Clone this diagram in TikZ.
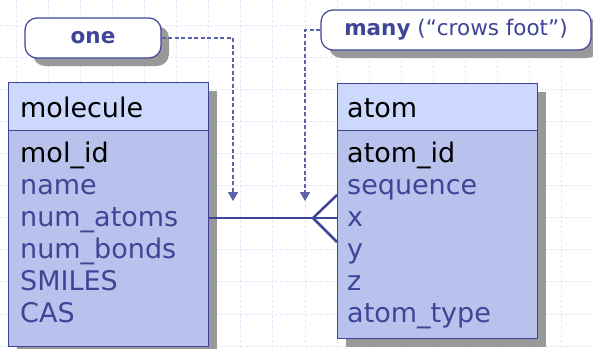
\documentclass[tikz,border=0pt]{standalone}
\usepackage{fontspec}
\setmainfont{DejaVu Sans}
\usetikzlibrary{arrows.meta, shadows, calc}

\definecolor{linkblue}{HTML}{3F4596}
\definecolor{dashblue}{HTML}{5C62A8}
\definecolor{headfill}{HTML}{CCD9FC}
\definecolor{bodyfill}{HTML}{B8C2EC}
\definecolor{gridblue}{HTML}{E2E7FB}
\definecolor{shadowgray}{HTML}{999999}

\begin{document}
\begin{tikzpicture}[x=1pt, y=-1pt,
        gridline/.style={gridblue, line width=0.8pt, dash pattern=on 3pt off 2pt},
        boxshadow/.style={drop shadow={shadow xshift=8pt, shadow yshift=-8pt, fill=shadowgray, opacity=1}},
        tablebox/.style={draw=linkblue, line width=1.2pt, fill=bodyfill, anchor=north west, minimum width=200pt, inner sep=0pt, boxshadow},
        headbox/.style={draw=linkblue, line width=1.2pt, fill=headfill, anchor=north west, minimum width=200pt, inner sep=0pt},
        tablename/.style={anchor=base west, inner sep=0pt, font=\fontsize{27}{32}\selectfont, text=black},
        keyfield/.style={tablename},
        field/.style={tablename, text=linkblue},
        notebox/.style={draw=linkblue, line width=1.2pt, fill=white, rounded corners=12pt, inner sep=0pt, font=\fontsize{21.5}{25}\selectfont, text=linkblue, boxshadow},
        notelink/.style={dashblue, line width=1.2pt, dash pattern=on 4pt off 2.5pt, -{Triangle[length=9pt, width=10pt]}},
        relation/.style={linkblue, line width=2.5pt}
    ]
    \useasboundingbox[fill=white] (0,0) rectangle (593,348);

    % background grid
    \foreach \k in {0,...,17}
        \draw[gridline] (16+32.1*\k,0) -- (16+32.1*\k,348);
    \foreach \k in {0,...,10}
        \draw[gridline] (0,25+32.1*\k) -- (593,25+32.1*\k);

    % molecule table
    \node[tablebox, minimum height=264pt] (molbox) at (8,82) {};
    \node[headbox, minimum height=48pt] (molhead) at (molbox.north west) {};
    \node[tablename] (molname) at (20,117) {molecule};
    \node[keyfield] (molid) at (20,162) {mol\_id};
    \foreach \f [count=\i] in {name, num\_atoms, num\_bonds, SMILES, CAS}
        \node[field] (molf\i) at (20,162+32*\i) {\f};

    % atom table
    \node[tablebox, minimum height=255pt] (atombox) at (337,83) {};
    \node[headbox, minimum height=47pt] (atomhead) at (atombox.north west) {};
    \node[tablename] (atomname) at (347,117) {atom};
    \node[keyfield] (atomid) at (347,162) {atom\_id};
    \foreach \f [count=\i] in {sequence, x, y, z, atom\_type}
        \node[field] (atomf\i) at (347,162+32*\i) {\f};

    % one-to-many link with crow's foot
    \coordinate (linky) at (0,218);
    \coordinate (crow) at (313,218);
    \draw[relation] (molbox.east |- linky) -- (atombox.west |- linky);
    \draw[relation] ($(atombox.west |- linky)+(0,-23)$) -- (crow) -- ($(atombox.west |- linky)+(0,24)$);

    % notes
    \node[notebox, minimum width=136pt, minimum height=40pt] (one) at (93,38) {\textbf{one}};
    \node[notebox, minimum width=270pt, minimum height=40pt] (many) at (456,30) {\textbf{many} (“crows foot”)};

    \coordinate (onetip) at (233,201);
    \coordinate (manytip) at (305,201);
    \draw[notelink] (one.east) -| (onetip);
    \draw[notelink] (many.west) -| (manytip);
\end{tikzpicture}
\end{document}
